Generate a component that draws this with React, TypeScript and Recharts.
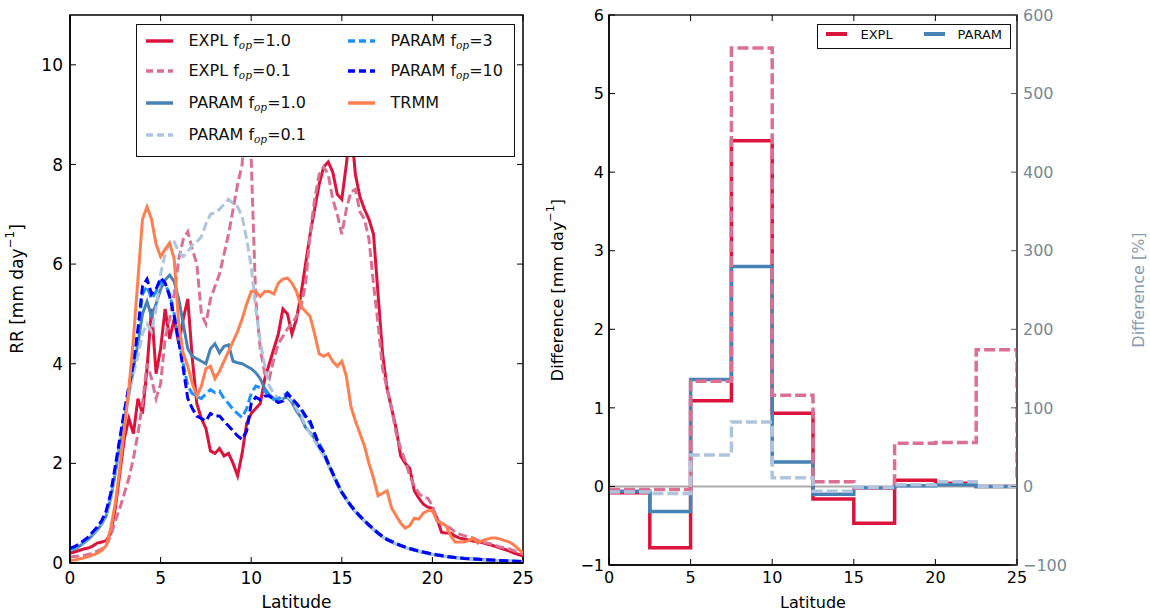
import React from 'react';
import { LineChart, Line, XAxis, YAxis, ReferenceArea, ReferenceLine, Label } from 'recharts';

const FONT = '"DejaVu Sans", sans-serif';

// left panel: zonal mean rain rate vs latitude
const lat = [
  0, 0.25, 0.5, 0.75, 1, 1.25, 1.5, 1.75, 2, 2.25, 2.5, 2.75, 3, 3.25, 3.5, 3.75,
  4, 4.25, 4.5, 4.75, 5, 5.25, 5.5, 5.75, 6, 6.25, 6.5, 6.75, 7, 7.25, 7.5, 7.75,
  8, 8.25, 8.5, 8.75, 9, 9.25, 9.5, 9.75, 10, 10.25, 10.5, 10.75, 11, 11.25, 11.5, 11.75,
  12, 12.25, 12.5, 12.75, 13, 13.25, 13.5, 13.75, 14, 14.25, 14.5, 14.75, 15, 15.25, 15.5, 15.75,
  16, 16.25, 16.5, 16.75, 17, 17.25, 17.5, 17.75, 18, 18.25, 18.5, 18.75, 19, 19.25, 19.5, 19.75,
  20, 20.25, 20.5, 20.75, 21, 21.25, 21.5, 21.75, 22, 22.25, 22.5, 22.75, 23, 23.25, 23.5, 23.75,
  24, 24.25, 24.5, 24.75, 25,
];

const explFop1 = [
  0.2, 0.22, 0.25, 0.28, 0.3, 0.34, 0.4, 0.42, 0.45, 0.6, 1.1, 1.8, 2.5, 2.9, 2.6, 3.3,
  3.0, 3.9, 5.1, 3.8, 4.3, 5.1, 4.5, 4.9, 4.4, 4.9, 5.3, 4.1, 3.2, 2.9, 2.7, 2.25,
  2.2, 2.3, 2.15, 2.2, 2.0, 1.75, 2.2, 2.8, 3.0, 3.1, 3.2, 3.7, 4.0, 4.3, 4.6, 5.1,
  5.0, 4.6, 4.9, 5.4, 6.0, 6.6, 7.1, 7.6, 7.95, 8.05, 7.85, 7.4, 7.3, 8.0, 8.8, 7.8,
  7.35, 7.1, 6.9, 6.6, 5.4, 4.2, 3.5, 3.1, 2.7, 2.15, 2.0, 1.9, 1.45, 1.3, 1.18, 1.12,
  1.1, 0.9, 0.62, 0.6, 0.6, 0.54, 0.5, 0.48, 0.46, 0.44, 0.42, 0.41, 0.38, 0.36, 0.33, 0.3,
  0.27, 0.24, 0.2, 0.17, 0.14,
];
const explFop01 = [
  0.12, 0.13, 0.14, 0.15, 0.17, 0.2, 0.24, 0.28, 0.35, 0.55, 0.85, 1.1, 1.4, 1.7, 2.1, 2.6,
  3.2, 4.0, 3.7, 3.3, 3.6, 4.5, 4.9, 5.4, 6.1, 6.5, 6.65, 6.3, 6.0, 5.0, 4.8, 5.3,
  5.55, 5.8, 6.2, 6.6, 7.1, 7.6, 8.0, 9.6, 8.1, 5.3, 4.3, 3.8, 3.7, 4.1, 4.4, 4.55,
  4.7, 4.8, 4.95, 5.15, 5.6, 6.6, 7.3, 7.8, 7.95, 7.8, 7.3, 7.0, 6.6, 7.1, 7.45, 7.5,
  7.05, 6.9, 6.5, 5.6, 4.8, 3.9, 3.5, 3.1, 2.6, 2.3, 2.05, 1.75, 1.55, 1.4, 1.32, 1.3,
  1.15, 0.85, 0.8, 0.75, 0.7, 0.62, 0.58, 0.55, 0.52, 0.5, 0.46, 0.42, 0.4, 0.38, 0.35, 0.32,
  0.3, 0.28, 0.25, 0.21, 0.18,
];
const paramFop1 = [
  0.25, 0.28, 0.33, 0.4, 0.47, 0.56, 0.66, 0.78, 0.95, 1.3, 1.8, 2.35, 2.9, 3.4, 3.9, 4.4,
  5.0, 5.25, 4.95, 5.2, 5.5, 5.68, 5.78, 5.65, 5.3, 4.8, 4.3, 4.15, 4.1, 4.05, 4.0, 4.3,
  4.4, 4.22, 4.35, 4.38, 4.05, 4.02, 4.0, 3.95, 3.9, 3.82, 3.7, 3.5, 3.38, 3.3, 3.27, 3.3,
  3.33, 3.22, 3.05, 2.92, 2.72, 2.62, 2.5, 2.32, 2.18, 1.98, 1.78, 1.58, 1.41, 1.27, 1.14, 1.03,
  0.93, 0.84, 0.75, 0.67, 0.59, 0.52, 0.47, 0.42, 0.38, 0.35, 0.31, 0.28, 0.26, 0.23, 0.21, 0.19,
  0.17, 0.16, 0.14, 0.13, 0.12, 0.11, 0.1, 0.09, 0.085, 0.08, 0.07, 0.065, 0.06, 0.055, 0.05, 0.047,
  0.043, 0.04, 0.036, 0.033, 0.03,
];
const paramFop01 = [
  0.27, 0.3, 0.35, 0.42, 0.49, 0.58, 0.68, 0.8, 0.98, 1.32, 1.85, 2.4, 2.95, 3.4, 3.8, 4.15,
  4.6, 4.8, 4.65, 5.1, 5.8, 6.2, 6.45, 6.45, 6.25, 6.15, 6.25, 6.38, 6.45, 6.55, 6.8, 7.0,
  7.03, 7.1, 7.2, 7.3, 7.22, 7.15, 6.95, 6.5, 5.95, 5.1, 4.45, 3.95, 3.55, 3.4, 3.3, 3.3,
  3.35, 3.25, 3.1, 2.95, 2.75, 2.6, 2.45, 2.3, 2.15, 1.96, 1.77, 1.58, 1.41, 1.27, 1.14, 1.03,
  0.93, 0.84, 0.75, 0.67, 0.59, 0.52, 0.47, 0.42, 0.38, 0.35, 0.31, 0.28, 0.26, 0.23, 0.21, 0.19,
  0.17, 0.16, 0.14, 0.13, 0.12, 0.11, 0.1, 0.09, 0.085, 0.08, 0.07, 0.065, 0.06, 0.055, 0.05, 0.047,
  0.043, 0.04, 0.036, 0.033, 0.03,
];
const paramFop3 = [
  0.28, 0.31, 0.36, 0.43, 0.5, 0.6, 0.7, 0.83, 1.02, 1.38, 1.9, 2.45, 3.0, 3.5, 4.0, 4.6,
  5.4, 5.55, 5.3, 5.45, 5.65, 5.6, 5.4, 5.0, 4.5, 4.0, 3.55, 3.4, 3.35, 3.3, 3.4, 3.48,
  3.42, 3.45, 3.3, 3.2, 3.08, 3.0, 2.92, 3.1, 3.4, 3.55, 3.52, 3.45, 3.35, 3.28, 3.3, 3.35,
  3.42, 3.3, 3.2, 3.08, 2.92, 2.8, 2.6, 2.4, 2.24, 2.01, 1.81, 1.61, 1.43, 1.29, 1.16, 1.05,
  0.95, 0.86, 0.77, 0.69, 0.61, 0.54, 0.48, 0.44, 0.4, 0.36, 0.33, 0.3, 0.27, 0.25, 0.22, 0.2,
  0.18, 0.17, 0.15, 0.14, 0.12, 0.11, 0.1, 0.095, 0.09, 0.085, 0.08, 0.07, 0.065, 0.06, 0.055, 0.05,
  0.046, 0.042, 0.038, 0.034, 0.03,
];
const paramFop10 = [
  0.3, 0.33, 0.38, 0.45, 0.52, 0.62, 0.72, 0.85, 1.05, 1.4, 1.95, 2.5, 3.05, 3.55, 4.0, 4.7,
  5.55, 5.7, 5.4, 5.5, 5.72, 5.62, 5.35, 4.95, 4.45, 3.9, 3.3, 3.1, 2.95, 2.9, 2.85, 3.0,
  2.95, 2.95, 2.85, 2.75, 2.65, 2.55, 2.48, 2.65, 3.2, 3.33, 3.28, 3.35, 3.35, 3.28, 3.22, 3.25,
  3.4, 3.3, 3.2, 3.1, 2.95, 2.85, 2.6, 2.35, 2.22, 2.0, 1.8, 1.6, 1.42, 1.28, 1.15, 1.04,
  0.94, 0.85, 0.76, 0.68, 0.6, 0.53, 0.47, 0.43, 0.39, 0.35, 0.32, 0.29, 0.26, 0.24, 0.22, 0.2,
  0.18, 0.16, 0.15, 0.13, 0.12, 0.11, 0.1, 0.09, 0.085, 0.08, 0.075, 0.07, 0.065, 0.06, 0.055, 0.05,
  0.045, 0.04, 0.035, 0.032, 0.03,
];
const trmm = [
  0.05, 0.06, 0.08, 0.1, 0.13, 0.16, 0.2, 0.25, 0.35, 0.7, 1.2, 1.9, 2.7, 3.5, 4.5, 5.7,
  6.9, 7.15, 6.9, 6.4, 6.15, 6.3, 6.42, 6.1, 4.8, 4.2, 3.95, 3.6, 3.35, 3.55, 3.9, 3.95,
  3.7, 3.85, 4.05, 4.25, 4.45, 4.65, 4.9, 5.2, 5.45, 5.45, 5.35, 5.45, 5.45, 5.4, 5.62, 5.7,
  5.72, 5.62, 5.45, 5.15, 5.05, 4.95, 4.6, 4.2, 4.15, 4.2, 4.05, 3.95, 4.05, 3.75, 3.15, 2.85,
  2.6, 2.35, 2.0, 1.7, 1.35, 1.4, 1.45, 1.1, 0.95, 0.8, 0.7, 0.75, 0.9, 0.88, 1.0, 1.05,
  1.05, 0.85, 0.8, 0.75, 0.55, 0.42, 0.42, 0.42, 0.45, 0.5, 0.4, 0.45, 0.48, 0.5, 0.5, 0.48,
  0.45, 0.42, 0.36, 0.28, 0.2,
];

// right panel: binned differences, 2.5 deg bins
const binEdge = [0, 2.5, 5, 7.5, 10, 12.5, 15, 17.5, 20, 22.5, 25];
const explDiff = [-0.08, -0.78, 1.09, 4.4, 0.93, -0.16, -0.47, 0.08, 0.04, 0.0, 0.0];
const paramDiff = [-0.06, -0.32, 1.36, 2.8, 0.31, -0.1, -0.02, 0.01, 0.02, 0.0, 0.0];
const explPct = [-4, -4, 134, 558, 116, 6, -2, 55, 56, 174, 10];
const paramPct = [-7, -9, 40, 82, 11, -6, -1, 2, 6, 0, 0];

const latTicks = [0, 5, 10, 15, 20, 25];
const rrTicks = [0, 2, 4, 6, 8, 10];
const diffTicks = [-1, 0, 1, 2, 3, 4, 5, 6];
const pctTicks = [-100, 0, 100, 200, 300, 400, 500, 600];

const leftSeries = [
  { key: 'expl1', name: 'EXPL', fop: '1.0', color: '#DC143C', dashed: false, values: explFop1 },
  { key: 'expl01', name: 'EXPL', fop: '0.1', color: '#DB7093', dashed: true, values: explFop01 },
  { key: 'param1', name: 'PARAM', fop: '1.0', color: '#4682B4', dashed: false, values: paramFop1 },
  { key: 'param01', name: 'PARAM', fop: '0.1', color: '#B0C4DE', dashed: true, values: paramFop01 },
  { key: 'param3', name: 'PARAM', fop: '3', color: '#1E90FF', dashed: true, values: paramFop3 },
  { key: 'param10', name: 'PARAM', fop: '10', color: '#0000FF', dashed: true, values: paramFop10 },
  { key: 'trmm', name: 'TRMM', fop: '', color: '#FF7F50', dashed: false, values: trmm },
];

const leftData = lat.map((x, i) => {
  const row: Record<string, number> = { lat: x };
  leftSeries.forEach((s) => (row[s.key] = s.values[i]));
  return row;
});

const rightData = binEdge.map((x, i) => ({
  edge: x,
  explDiff: explDiff[i],
  paramDiff: paramDiff[i],
  explPct: explPct[i],
  paramPct: paramPct[i],
}));

const fmt = (v: number) => (v < 0 ? '\u2212' + Math.abs(v) : String(v));

// matplotlib-style ticks pointing into the axes box
function BottomTick(props: any) {
  const { x, y, payload, fs, gap, top } = props;
  const axisY = y - gap;
  return (
    <g>
      <line x1={x} x2={x} y1={axisY} y2={axisY - 6} stroke="#000" />
      <line x1={x} x2={x} y1={top} y2={top + 6} stroke="#000" />
      <text x={x} y={y} dy="0.76em" textAnchor="middle" fontSize={fs} fontFamily={FONT} fill="#000">
        {fmt(payload.value)}
      </text>
    </g>
  );
}

function LeftTick(props: any) {
  const { x, y, payload, fs, gap, right } = props;
  const axisX = x + gap;
  return (
    <g>
      <line x1={axisX} x2={axisX + 6} y1={y} y2={y} stroke="#000" />
      {right ? <line x1={right} x2={right - 6} y1={y} y2={y} stroke="#000" /> : null}
      <text x={x} y={y} dy="0.36em" textAnchor="end" fontSize={fs} fontFamily={FONT} fill="#000">
        {fmt(payload.value)}
      </text>
    </g>
  );
}

function RightTick(props: any) {
  const { x, y, payload, fs, gap, color } = props;
  const axisX = x - gap;
  return (
    <g>
      <line x1={axisX} x2={axisX - 6} y1={y} y2={y} stroke="#555" />
      <text x={x} y={y} dy="0.36em" textAnchor="start" fontSize={fs} fontFamily={FONT} fill={color}>
        {fmt(payload.value)}
      </text>
    </g>
  );
}

function VLabel(props: any) {
  const { viewBox, cx, text, sup, fs, color } = props;
  const x = viewBox.x + cx;
  const y = viewBox.y + viewBox.height / 2;
  return (
    <text
      x={x}
      y={y}
      transform={`rotate(-90 ${x} ${y})`}
      textAnchor="middle"
      dominantBaseline="central"
      fontSize={fs}
      fontFamily={FONT}
      fill={color}
    >
      <tspan>{text}</tspan>
      {sup ? (
        <>
          <tspan dy={-fs * 0.42} fontSize={fs * 0.7}>{sup}</tspan>
          <tspan dy={fs * 0.42}>]</tspan>
        </>
      ) : null}
    </text>
  );
}

function HLabel(props: any) {
  const { viewBox, cy, text, fs } = props;
  const x = viewBox.x + viewBox.width / 2;
  return (
    <text x={x} y={viewBox.y + cy} textAnchor="middle" dominantBaseline="central" fontSize={fs} fontFamily={FONT} fill="#000">
      {text}
    </text>
  );
}

function Fop({ v }: { v: string }) {
  return (
    <>
      {' f'}
      <span style={{ fontFamily: '"DejaVu Serif", serif', fontStyle: 'italic', fontSize: '0.66em', position: 'relative', top: '0.35em' }}>
        op
      </span>
      {'=' + v}
    </>
  );
}

function Sample({ color, dashed, w, sw }: { color: string; dashed: boolean; w: number; sw: number }) {
  return (
    <svg width={w} height={10} style={{ display: 'block' }}>
      <line x1={0} x2={w} y1={5} y2={5} stroke={color} strokeWidth={sw} strokeDasharray={dashed ? '7 4' : undefined} />
    </svg>
  );
}

function LeftLegend() {
  const colX = [10, 212];
  const textX = [53, 255];
  const rowY = [17, 47, 79, 111];
  return (
    <div
      style={{
        position: 'absolute', left: 136, top: 24, width: 379, height: 133, boxSizing: 'border-box',
        border: '1.5px solid #111', background: '#fff', fontFamily: FONT, fontSize: 16, color: '#111',
      }}
    >
      {leftSeries.map((s, i) => {
        const col = i < 4 ? 0 : 1;
        const row = i < 4 ? i : i - 4;
        return (
          <React.Fragment key={s.key}>
            <div style={{ position: 'absolute', left: colX[col] - 1.5, top: rowY[row] - 6.5 }}>
              <Sample color={s.color} dashed={s.dashed} w={27} sw={3.5} />
            </div>
            <div style={{ position: 'absolute', left: textX[col] - 1.5, top: rowY[row] - 11.5, whiteSpace: 'nowrap', lineHeight: '20px' }}>
              {s.name}
              {s.fop ? <Fop v={s.fop} /> : null}
            </div>
          </React.Fragment>
        );
      })}
    </div>
  );
}

const rightLegendItems = [
  { name: 'EXPL', color: '#DC143C' },
  { name: 'PARAM', color: '#4682B4' },
];

function RightLegend() {
  const sx = [9, 107];
  const tx = [44, 141];
  return (
    <div
      style={{
        position: 'absolute', left: 817, top: 24, width: 194, height: 25, boxSizing: 'border-box',
        border: '1.5px solid #111', background: '#fff', fontFamily: FONT, fontSize: 13, color: '#111',
      }}
    >
      {rightLegendItems.map((it, i) => (
        <React.Fragment key={it.name}>
          <div style={{ position: 'absolute', left: sx[i] - 1.5, top: 4 }}>
            <Sample color={it.color} dashed={false} w={21} sw={4} />
          </div>
          <div style={{ position: 'absolute', left: tx[i] - 1.5, top: 1, lineHeight: '18px' }}>{it.name}</div>
        </React.Fragment>
      ))}
    </div>
  );
}

const drawOrder = ['expl1', 'expl01', 'param1', 'param01', 'param3', 'param10', 'trmm'];

export default function App() {
  return (
    <div style={{ position: 'absolute', left: 0, top: 0, width: 1150, height: 612, background: '#fff', fontFamily: FONT }}>
      <div style={{ position: 'absolute', left: 0, top: 0 }}>
        <LineChart width={540} height={612} data={leftData} margin={{ top: 15, right: 17, bottom: 0, left: 0 }}>
          <XAxis
            dataKey="lat"
            type="number"
            domain={[0, 25]}
            ticks={latTicks}
            allowDataOverflow
            height={49}
            tickSize={0}
            tickMargin={8}
            tickLine={false}
            axisLine={{ stroke: '#000', strokeWidth: 1.5 }}
            tick={(p: any) => <BottomTick {...p} fs={17} gap={8} top={15} />}
          >
            <Label content={(p: any) => <HLabel {...p} cy={39} text="Latitude" fs={17} />} />
          </XAxis>
          <YAxis
            type="number"
            domain={[0, 11]}
            ticks={rrTicks}
            allowDataOverflow
            width={70}
            tickSize={0}
            tickMargin={7}
            tickLine={false}
            axisLine={{ stroke: '#000', strokeWidth: 1.5 }}
            tick={(p: any) => <LeftTick {...p} fs={17} gap={7} right={523} />}
          >
            <Label content={(p: any) => <VLabel {...p} cx={17} text="RR [mm day" sup={'\u22121'} fs={17} color="#000" />} />
          </YAxis>
          <ReferenceArea x1={0} x2={25} y1={0} y2={11} fill="none" stroke="#000" strokeWidth={1.5} ifOverflow="visible" />
          {drawOrder.map((k) => {
            const s = leftSeries.find((d) => d.key === k)!;
            return (
              <Line
                key={k}
                dataKey={k}
                stroke={s.color}
                strokeWidth={3}
                strokeDasharray={s.dashed ? '9 4' : undefined}
                dot={false}
                activeDot={false}
                isAnimationActive={false}
                type="linear"
              />
            );
          })}
        </LineChart>
      </div>
      <LeftLegend />

      <div style={{ position: 'absolute', left: 540, top: 0 }}>
        <LineChart width={610} height={612} data={rightData} margin={{ top: 15, right: 0, bottom: 0, left: 0 }}>
          <XAxis
            dataKey="edge"
            type="number"
            domain={[0, 25]}
            ticks={latTicks}
            allowDataOverflow
            height={47}
            tickSize={0}
            tickMargin={6}
            tickLine={false}
            axisLine={{ stroke: '#000', strokeWidth: 1.5 }}
            tick={(p: any) => <BottomTick {...p} fs={16} gap={6} top={15} />}
          >
            <Label content={(p: any) => <HLabel {...p} cy={37} text="Latitude" fs={16} />} />
          </XAxis>
          <YAxis
            yAxisId="mm"
            type="number"
            domain={[-1, 6]}
            ticks={diffTicks}
            allowDataOverflow
            width={69}
            tickSize={0}
            tickMargin={5}
            tickLine={false}
            axisLine={{ stroke: '#000', strokeWidth: 1.5 }}
            tick={(p: any) => <LeftTick {...p} fs={16} gap={5} />}
          >
            <Label content={(p: any) => <VLabel {...p} cx={17} text="Difference [mm day" sup={'\u22121'} fs={16} color="#000" />} />
          </YAxis>
          <YAxis
            yAxisId="pct"
            orientation="right"
            type="number"
            domain={[-100, 600]}
            ticks={pctTicks}
            allowDataOverflow
            width={133}
            tickSize={0}
            tickMargin={6}
            tickLine={false}
            axisLine={{ stroke: '#555', strokeWidth: 1.5 }}
            tick={(p: any) => <RightTick {...p} fs={16} gap={6} color="#778899" />}
          >
            <Label content={(p: any) => <VLabel {...p} cx={121} text="Difference [%]" fs={16} color="#8c9bab" />} />
          </YAxis>
          <ReferenceArea yAxisId="mm" x1={0} x2={25} y1={-1} y2={6} fill="none" stroke="#222" strokeWidth={1.5} ifOverflow="visible" />
          <ReferenceLine yAxisId="mm" y={0} stroke="#aaaaaa" strokeWidth={2} />
          <Line yAxisId="mm" type="stepAfter" dataKey="explDiff" stroke="#DC143C" strokeWidth={3.5} dot={false} activeDot={false} isAnimationActive={false} />
          <Line yAxisId="mm" type="stepAfter" dataKey="paramDiff" stroke="#4682B4" strokeWidth={3.5} dot={false} activeDot={false} isAnimationActive={false} />
          <Line yAxisId="pct" type="stepAfter" dataKey="explPct" stroke="#DB7093" strokeWidth={3.5} strokeDasharray="11 4" dot={false} activeDot={false} isAnimationActive={false} />
          <Line yAxisId="pct" type="stepAfter" dataKey="paramPct" stroke="#B0C4DE" strokeWidth={3.5} strokeDasharray="11 4" dot={false} activeDot={false} isAnimationActive={false} />
        </LineChart>
      </div>
      <RightLegend />
    </div>
  );
}
